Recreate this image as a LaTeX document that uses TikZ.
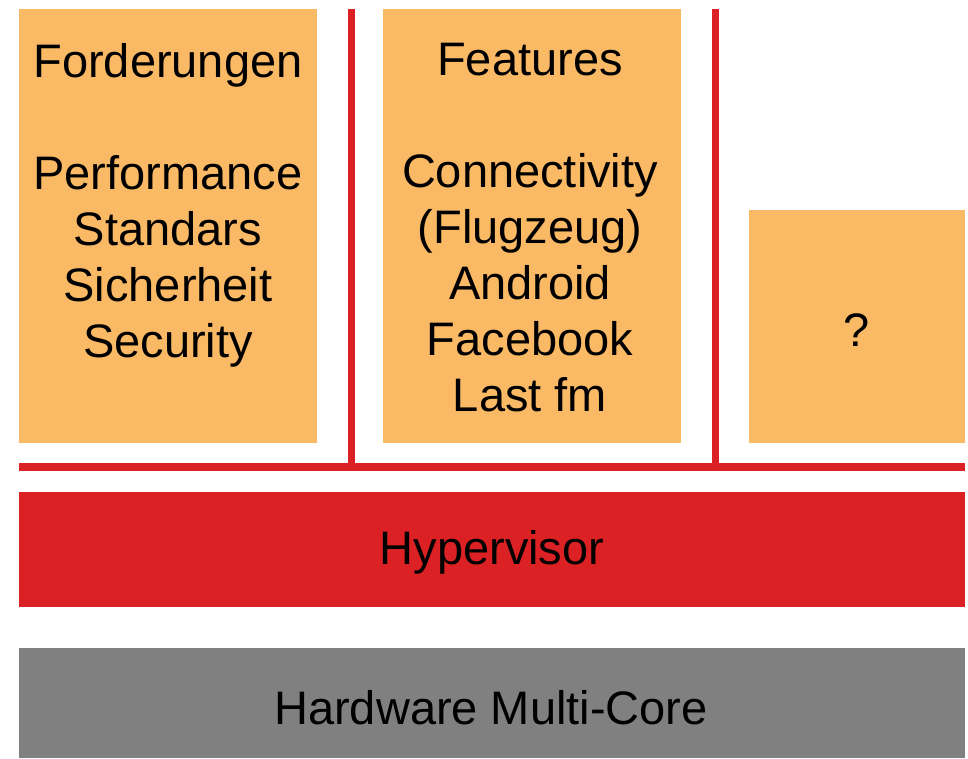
\documentclass[tikz,border=0pt]{standalone}
\usepackage{fontspec}
\setmainfont{Liberation Sans}
\definecolor{boxorange}{RGB}{250,185,100}
\definecolor{layerred}{RGB}{220,33,36}
\definecolor{hwgray}{RGB}{128,128,128}
\begin{document}
\begin{tikzpicture}[x=1pt,y=-1pt,
  block/.style={fill=boxorange, draw=none, inner sep=0pt},
  layer/.style={draw=none, inner sep=0pt, minimum width=946pt},
  bigtext/.style={inner sep=0pt, font=\fontsize{47}{56}\selectfont},
  label/.style={bigtext, align=center, anchor=north},
  divider/.style={draw=layerred, line width=7.5pt}]
  \useasboundingbox (0,0) rectangle (968,758);

  % application partitions
  \node[block, minimum width=298pt, minimum height=434pt] (req) at (168,226) {};
  \node[block, minimum width=298pt, minimum height=434pt] (feat) at (532,226) {};
  \node[block, minimum width=216pt, minimum height=233pt] (misc) at (857,326.5) {};
  \node[bigtext] (misctxt) at (857,330) {?};

  \node[label] (reqtxt) at (168,43)
    {Forderungen\\[56pt]Performance\\Standars\\Sicherheit\\Security};
  \node[label] (feattxt) at (530,43)
    {Features\\[56pt]Connectivity\\(Flugzeug)\\Android\\Facebook\\Last fm};

  % separators between the partitions
  \coordinate (sepA) at (351.5,9);
  \coordinate (sepB) at (715.5,9);
  \coordinate (baseL) at (19,467);
  \coordinate (baseR) at (965,467);
  \draw[divider] (baseL) -- (baseR);
  \draw[divider] (sepA) -- (sepA |- baseL);
  \draw[divider] (sepB) -- (sepB |- baseL);

  % lower layers
  \node[layer, fill=layerred, minimum height=115pt] (hyp) at (492,549.5) {};
  \node[bigtext] (hyptxt) at (492,552) {Hypervisor};
  \node[layer, fill=hwgray, minimum height=110pt] (hw) at (492,703) {};
  \node[bigtext] (hwtxt) at (491,708) {Hardware Multi-Core};
\end{tikzpicture}
\end{document}
